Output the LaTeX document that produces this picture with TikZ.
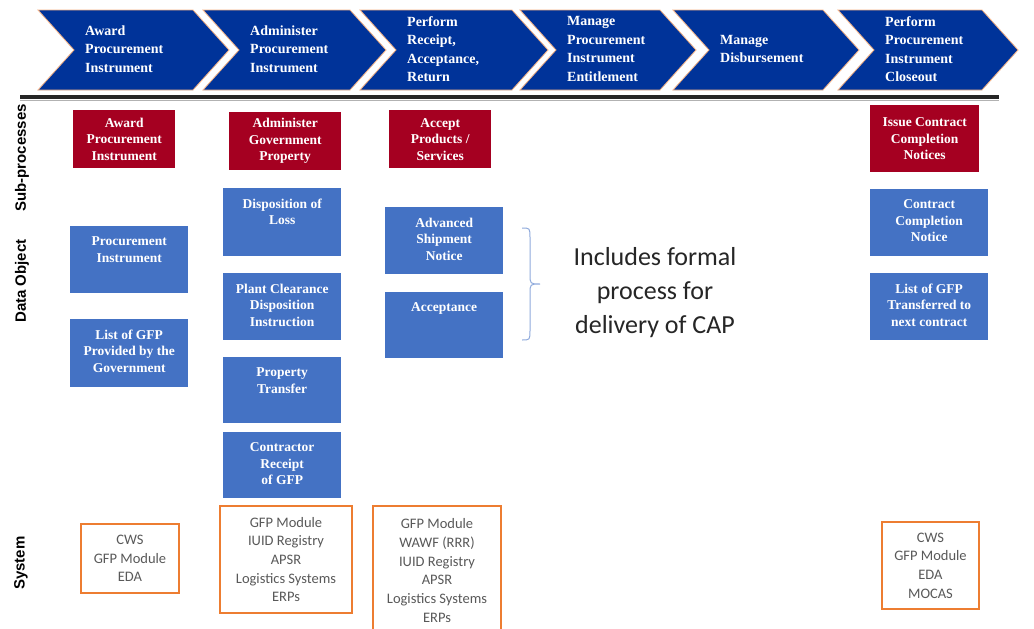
\documentclass[tikz,border=0pt]{standalone}
\usepackage{fontspec}
\setmainfont{Liberation Serif}
\newfontfamily\calibfont{Carlito}
\newfontfamily\arialfont{Liberation Sans}
\usetikzlibrary{calc}
\definecolor{chevblue}{HTML}{003399}
\definecolor{subred}{HTML}{A50021}
\definecolor{objblue}{HTML}{4472C4}
\definecolor{sysorange}{HTML}{ED7D31}
\definecolor{chevedge}{HTML}{F4B183}
\definecolor{systext}{HTML}{595959}
\definecolor{bracecol}{HTML}{8FAADC}

% one process chevron: left edge, right edge of the body, node name, label
\newcommand\chevpiece[4]{%
  \path[chevron] (#1,10) -- (#2,10) -- (#2+36,50) -- (#2,90) -- (#1,90) -- (#1+36,50) -- cycle;
  \node[chevtext] (#3) at (#1+47,49) {#4};
}

\begin{document}
\begin{tikzpicture}[x=1pt,y=-1pt,
  chevron/.style={fill=chevblue, draw=chevedge, line width=0.8pt, line join=miter},
  chevtext/.style={text=white, font=\bfseries\fontsize{14}{18.5}\selectfont, align=left, anchor=west, inner sep=0},
  rowlabel/.style={rotate=90, font=\arialfont\bfseries\fontsize{15}{18}\selectfont, inner sep=0},
  subbox/.style={fill=subred, anchor=north west, inner sep=0, align=center,
    text=white, font=\bfseries\fontsize{13.5}{16.5}\selectfont},
  objbox/.style={fill=objblue, anchor=north west, inner sep=0},
  objtext/.style={anchor=north, inner sep=0, align=center, text=white,
    font=\bfseries\fontsize{13.5}{16.5}\selectfont},
  sysbox/.style={draw=sysorange, line width=2pt, fill=white, anchor=north west, inner sep=0,
    align=center, text=systext, font=\calibfont\fontsize{14.5}{18.7}\selectfont},
  systext/.style={anchor=north, inner sep=0, align=center, text=systext,
    font=\calibfont\fontsize{14.5}{18.7}\selectfont},
  notetext/.style={align=center, inner sep=0, text=black!85,
    font=\calibfont\fontsize{26}{34}\selectfont},
  bracepath/.style={draw=bracecol, line width=1pt}
]
\useasboundingbox[fill=white] (0,0) rectangle (1034,629);

% process chain
\chevpiece{38}{193}{chA}{Award\\Procurement\\Instrument}
\chevpiece{203}{350}{chB}{Administer\\Procurement\\Instrument}
\chevpiece{360}{512}{chC}{Perform\\Receipt,\\Acceptance,\\Return}
\chevpiece{520}{660}{chD}{Manage\\Procurement\\Instrument\\Entitlement}
\chevpiece{673}{823}{chE}{Manage\\Disbursement}
\chevpiece{838}{982}{chF}{Perform\\Procurement\\Instrument\\Closeout}

% separator under the chain
\coordinate (ruleL) at (20,97);
\coordinate (ruleR) at (999,97);
\draw[line width=3.5pt, black!85] (ruleL) -- (ruleR);
\draw[line width=0.8pt, black!30] ($(ruleL)+(0,3)$) -- ($(ruleR)+(0,3)$);

% row labels
\node[rowlabel] (lblSub) at (22,158) {Sub-processes};
\node[rowlabel] (lblObj) at (22,281) {Data Object};
\node[rowlabel] (lblSys) at (21,563) {System};

% sub-processes
\node[subbox, minimum width=102, minimum height=58] (spA) at (73,110) {Award\\Procurement\\Instrument};
\node[subbox, minimum width=112, minimum height=58] (spB) at (229,112) {Administer\\Government\\Property};
\node[subbox, minimum width=102, minimum height=58] (spC) at (389,110) {Accept\\Products /\\Services};
\node[subbox, minimum width=109, minimum height=67] (spF) at (870,105) {Issue Contract\\Completion\\Notices};

% data objects
\node[objbox, minimum width=118, minimum height=67] (doA1) at (70,226) {};
\node[objtext] (doA1t) at ($(doA1.north)+(0,10.5)$) {Procurement\\Instrument};
\node[objbox, minimum width=118, minimum height=68] (doA2) at (70,319) {};
\node[objtext] (doA2t) at ($(doA2.north)+(0,10.5)$) {List of GFP\\Provided by the\\Government};

\node[objbox, minimum width=118, minimum height=68] (doB1) at (223,188) {};
\node[objtext] (doB1t) at ($(doB1.north)+(0,10.5)$) {Disposition of\\Loss};
\node[objbox, minimum width=118, minimum height=67] (doB2) at (223,273) {};
\node[objtext] (doB2t) at ($(doB2.north)+(0,10.5)$) {Plant Clearance\\Disposition\\Instruction};
\node[objbox, minimum width=118, minimum height=66] (doB3) at (223,357) {};
\node[objtext] (doB3t) at ($(doB3.north)+(0,10.5)$) {Property\\Transfer};
\node[objbox, minimum width=118, minimum height=66] (doB4) at (223,432) {};
\node[objtext] (doB4t) at ($(doB4.north)+(0,10.5)$) {Contractor\\Receipt\\of GFP};

\node[objbox, minimum width=118, minimum height=67] (doC1) at (385,207) {};
\node[objtext] (doC1t) at ($(doC1.north)+(0,10.5)$) {Advanced\\Shipment\\Notice};
\node[objbox, minimum width=118, minimum height=66] (doC2) at (385,292) {};
\node[objtext] (doC2t) at ($(doC2.north)+(0,10.5)$) {Acceptance};

\node[objbox, minimum width=118, minimum height=67] (doF1) at (870,189) {};
\node[objtext] (doF1t) at ($(doF1.north)+(0,10.5)$) {Contract\\Completion\\Notice};
\node[objbox, minimum width=118, minimum height=67] (doF2) at (870,273) {};
\node[objtext] (doF2t) at ($(doF2.north)+(0,10.5)$) {List of GFP\\Transferred to\\next contract};

% brace and note
\coordinate (brTop) at (522,228);
\coordinate (brTip) at (540,284);
\coordinate (brBot) at (522,340);
\draw[bracepath] (brTop) .. controls (530,228) .. (530,238) -- (530,274)
  .. controls (530,284) .. (brTip) .. controls (530,284) .. (530,294) -- (530,330)
  .. controls (530,340) .. (brBot);
\node[notetext] (note) at (655,293) {Includes formal\\process for\\delivery of CAP};

% systems
\node[sysbox, minimum width=98, minimum height=69] (sysA) at (80,523) {CWS\\GFP Module\\EDA};
\node[sysbox, minimum width=132, minimum height=107] (sysB) at (219,505) {GFP Module\\IUID Registry\\APSR\\Logistics Systems\\ERPs};
\node[sysbox, minimum width=128, minimum height=140] (sysC) at (372,505) {};
\node[systext] (sysCt) at ($(sysC.north)+(0,13.5)$) {GFP Module\\WAWF (RRR)\\IUID Registry\\APSR\\Logistics Systems\\ERPs};
\node[sysbox, minimum width=97, minimum height=87] (sysF) at (881,521) {CWS\\GFP Module\\EDA\\MOCAS};
\end{tikzpicture}
\end{document}
